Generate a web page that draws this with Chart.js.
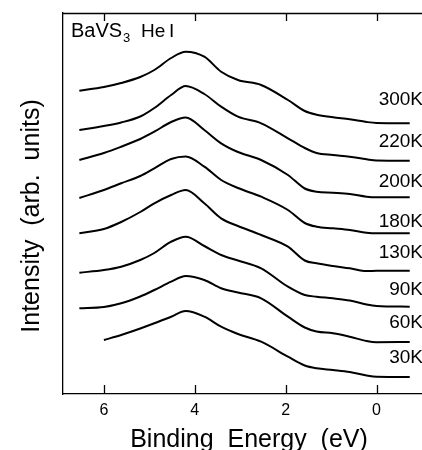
<!DOCTYPE html>
<html>
<head>
<meta charset="utf-8">
<script src="https://cdn.jsdelivr.net/npm/chart.js@4/dist/chart.umd.min.js"></script>
<style>
html,body{margin:0;padding:0;background:#fff;}
#wrap{width:422px;height:450px;}
</style>
</head>
<body>
<div id="wrap"><canvas id="c" width="422" height="450"></canvas></div>
<script>
// Binding energy grid (eV)
const energy = [6.54, 6.0, 5.62, 5.2, 4.89, 4.52, 4.2, 3.79, 3.42, 3.05, 2.54, 1.95, 1.58, 1.32, 0.96, 0.59, 0.22, 0.0, -0.73];
// Temperature labels
const temps = ["300K", "220K", "200K", "180K", "130K", "90K", "60K", "30K"];
// Intensities (arb. units, offset stacked)
const i300 = [303.3, 307, 311, 317, 324, 336, 342.3, 337.3, 322.3, 314, 309, 294, 283, 279.3, 276.7, 274.7, 272, 271, 270.7];
const i220 = [264, 268, 271.5, 277.5, 286, 299, 308, 300, 287.3, 277.3, 270.7, 255.7, 246, 241, 239, 237.3, 234.7, 233.5, 233.3];
const i200 = [234, 241, 247.3, 255, 262.3, 272, 276.5, 264, 250.7, 242, 234, 219, 205.5, 202.3, 201.3, 200, 197.3, 196.7, 196.7];
const i180 = [196, 204, 210.7, 218, 225.7, 235, 237.5, 227.3, 214, 206, 197.3, 184, 171, 167.3, 165.7, 164, 161.3, 160.7, 160.7];
const i130 = [160.7, 165, 172, 182, 190.7, 199, 204, 190.7, 175.7, 168, 159, 147.3, 133.5, 130.7, 128, 125.7, 123, 123.2, 123.3];
const i90  = [121.3, 124, 127.3, 134, 141, 152.3, 157.3, 148, 139, 133.5, 125.7, 107.3, 99, 97.3, 95.7, 93.5, 89.5, 88, 87.3];
const i60  = [85.7, 87, 90.7, 97.5, 104, 112.3, 118, 114, 105.7, 101.5, 95.7, 77.3, 66.5, 62.5, 60.7, 57.3, 53, 51.8, 52];
const i30  = [null, 54, 59, 65.5, 70.7, 77.3, 83, 77.3, 67.3, 60, 52.3, 37.3, 28.5, 25.7, 24, 22, 18.5, 17.2, 17];
// Label heights (arb. units) for each curve's temperature tag
const labelLevel = [294, 252.3, 212.3, 172.3, 141, 104.7, 71, 36];
// x-axis ticks
const xTicks = [6, 4, 2, 0];

const series = [i300, i220, i200, i180, i130, i90, i60, i30];
const datasets = series.map((s, k) => ({
  label: temps[k],
  data: energy.map((e, j) => ({x: e, y: s[j]})),
  borderColor: '#000',
  borderWidth: 2,
  pointRadius: 0,
  cubicInterpolationMode: 'monotone',
  fill: false,
  spanGaps: false
}));

const FONT = '"Liberation Sans", Arial, Helvetica, sans-serif';

const decor = {
  id: 'decor',
  afterDraw(chart) {
    const ctx = chart.ctx, a = chart.chartArea;
    const xs = chart.scales.x, ys = chart.scales.y;
    ctx.save();
    ctx.strokeStyle = '#000';
    ctx.lineWidth = 1.3;
    // top frame line
    ctx.beginPath();
    ctx.moveTo(a.left, a.top + 0.5);
    ctx.lineTo(a.right, a.top + 0.5);
    ctx.stroke();
    // inward tick marks (bottom & top)
    xTicks.forEach(v => {
      const px = Math.round(xs.getPixelForValue(v)) + 0.5;
      ctx.beginPath();
      ctx.moveTo(px, a.bottom);
      ctx.lineTo(px, a.bottom - 9);
      ctx.moveTo(px, a.top);
      ctx.lineTo(px, a.top + 8);
      ctx.stroke();
    });
    ctx.fillStyle = '#000';
    // temperature labels
    ctx.font = '19px ' + FONT;
    ctx.textAlign = 'right';
    ctx.textBaseline = 'middle';
    temps.forEach((t, k) => {
      ctx.fillText(t, a.right + 1, ys.getPixelForValue(labelLevel[k]));
    });
    // sample label
    ctx.textAlign = 'left';
    ctx.textBaseline = 'alphabetic';
    ctx.font = '20px ' + FONT;
    ctx.fillText('BaVS', a.left + 8, a.top + 24);
    ctx.font = '13px ' + FONT;
    ctx.fillText('3', a.left + 60, a.top + 29);
    ctx.font = '19px ' + FONT;
    ctx.fillText('He', a.left + 78, a.top + 24);
    ctx.fillText('I', a.left + 106, a.top + 24);
    // axis titles
    ctx.font = '25px ' + FONT;
    ctx.textAlign = 'center';
    ctx.fillText('Binding  Energy  (eV)', 249, 447);
    ctx.save();
    ctx.translate(39, 216);
    ctx.rotate(-Math.PI / 2);
    ctx.fillText('Intensity  (arb.  units)', 0, 0);
    ctx.restore();
    ctx.restore();
  }
};

new Chart(document.getElementById('c'), {
  type: 'line',
  data: { datasets },
  options: {
    responsive: false,
    animation: false,
    devicePixelRatio: 1,
    layout: { padding: { top: 13, right: 0, left: 0, bottom: 0 } },
    plugins: { legend: { display: false }, tooltip: { enabled: false } },
    scales: {
      x: {
        type: 'linear',
        reverse: true,
        min: -1.0,
        max: 6.9,
        afterFit(s) { s.height = 56; },
        afterBuildTicks(s) { s.ticks = xTicks.map(v => ({ value: v })); },
        grid: { display: true, drawOnChartArea: false, drawTicks: false },
        border: { display: true, color: '#000', width: 1.3 },
        ticks: { color: '#000', font: { size: 16, family: FONT }, padding: 7 }
      },
      y: {
        type: 'linear',
        min: 0,
        max: 381,
        afterFit(s) { s.width = 63; },
        grid: { display: false, drawTicks: false },
        border: { display: true, color: '#000', width: 1.3 },
        ticks: { display: false }
      }
    }
  },
  plugins: [decor]
});
</script>
</body>
</html>
